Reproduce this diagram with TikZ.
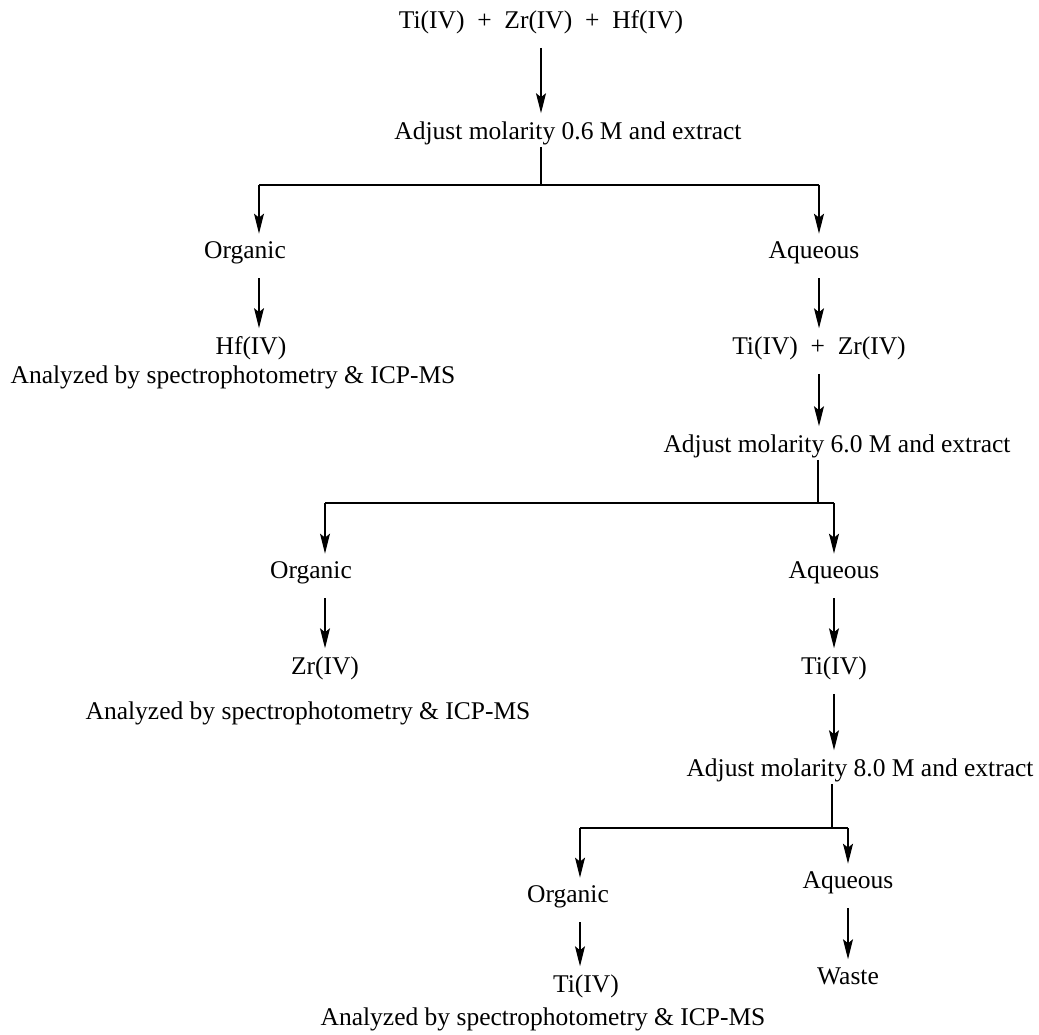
\documentclass[tikz,border=0pt]{standalone}
\usepackage{fontspec}
\setmainfont{Liberation Serif}
\usetikzlibrary{positioning, arrows.meta}

\tikzset{
  lbl/.style={inner sep=2pt, font=\fontsize{25.5}{30}\selectfont},
  ln/.style={line width=1.2pt},
  arr/.style={ln, -{Stealth[length=20pt, width=10pt, inset=4pt]}, shorten >=6pt},
  gap/.style={shorten <=12pt}
}

\begin{document}
\begin{tikzpicture}[x=1pt, y=-1pt]
  \useasboundingbox (0,0) rectangle (1039,1035);

  % feed and first extraction
  \node[lbl] (feed) at (541,22) {Ti(IV)\ \ +\ \ Zr(IV)\ \ +\ \ Hf(IV)};
  \node[lbl] (adj1) at (568,133) {Adjust molarity 0.6 M and extract};
  \draw[arr, gap] (feed.south) -- (feed.south |- adj1.north);

  \coordinate (j1) at (541,185);
  \coordinate (l1) at (259,185);
  \coordinate (r1) at (819,185);
  \draw[ln] (j1 |- adj1.south) -- (j1);
  \draw[ln] (l1) -- (r1);

  \node[lbl] (org1) at (245,253) {Organic};
  \node[lbl] (aq1)  at (814,253) {Aqueous};
  \draw[arr] (l1) -- (l1 |- org1.north);
  \draw[arr] (r1) -- (r1 |- aq1.north);

  \node[lbl] (hf)   at (251,348) {Hf(IV)};
  \node[lbl] (ana1) at (233,377) {Analyzed by spectrophotometry \& ICP-MS};
  \draw[arr, gap] (l1 |- org1.south) -- (l1 |- hf.north);

  % second extraction
  \node[lbl] (tizr) at (819,348) {Ti(IV)\ \ +\ \ Zr(IV)};
  \draw[arr, gap] (r1 |- aq1.south) -- (r1 |- tizr.north);
  \node[lbl] (adj2) at (837,446) {Adjust molarity 6.0 M and extract};
  \draw[arr, gap] (r1 |- tizr.south) -- (r1 |- adj2.north);

  \coordinate (j2) at (818,503);
  \coordinate (l2) at (325,503);
  \coordinate (r2) at (834,503);
  \draw[ln] (j2 |- adj2.south) -- (j2);
  \draw[ln] (l2) -- (r2);

  \node[lbl] (org2) at (311,573) {Organic};
  \node[lbl] (aq2)  at (834,573) {Aqueous};
  \draw[arr] (l2) -- (l2 |- org2.north);
  \draw[arr] (r2) -- (r2 |- aq2.north);

  \node[lbl] (zr)   at (325,668) {Zr(IV)};
  \node[lbl] (ana2) at (308,713) {Analyzed by spectrophotometry \& ICP-MS};
  \draw[arr, gap] (l2 |- org2.south) -- (l2 |- zr.north);

  % third extraction
  \node[lbl] (ti1)  at (834,668) {Ti(IV)};
  \draw[arr, gap] (r2 |- aq2.south) -- (r2 |- ti1.north);
  \node[lbl] (adj3) at (860,770) {Adjust molarity 8.0 M and extract};
  \draw[arr, gap] (r2 |- ti1.south) -- (r2 |- adj3.north);

  \coordinate (j3) at (832,828);
  \coordinate (l3) at (580,828);
  \coordinate (r3) at (848,828);
  \draw[ln] (j3 |- adj3.south) -- (j3);
  \draw[ln] (l3) -- (r3);

  \node[lbl] (org3) at (568,897) {Organic};
  \node[lbl] (aq3)  at (848,883) {Aqueous};
  \draw[arr] (l3) -- (l3 |- org3.north);
  \draw[arr] (r3) -- (r3 |- aq3.north);

  \node[lbl] (ti2)   at (586,986) {Ti(IV)};
  \node[lbl] (ana3)  at (543,1019) {Analyzed by spectrophotometry \& ICP-MS};
  \node[lbl] (waste) at (848,976) {Waste};
  \draw[arr, gap] (l3 |- org3.south) -- (l3 |- ti2.north);
  \draw[arr, gap] (r3 |- aq3.south) -- (r3 |- waste.north);
\end{tikzpicture}
\end{document}
